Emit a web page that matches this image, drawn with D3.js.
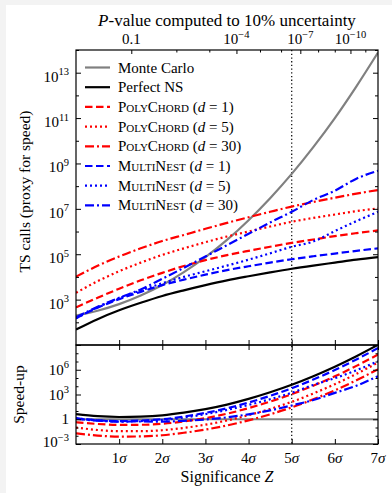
<!DOCTYPE html>
<html>
<head>
<meta charset="utf-8">
<script src="https://cdn.jsdelivr.net/npm/d3@7"></script>
<style>
body { margin: 0; background: #fff; }
text { font-family: "Liberation Serif", "Times New Roman", serif; fill: #000; }
</style>
</head>
<body>
<div id="chart"></div>
<script>
// significance grid (sigma) and log10(TS calls)
const zGrid       = [0, 0.5, 1, 1.5, 2, 2.5, 3, 3.5, 4, 4.5, 5, 5.5, 6, 6.5, 7];
const monteCarlo  = [2.30, 2.51, 2.80, 3.18, 3.64, 4.21, 4.87, 5.63, 6.50, 7.47, 8.54, 9.72, 11.00, 12.40, 13.89];
const perfectNS   = [1.68, 2.14, 2.53, 2.86, 3.16, 3.41, 3.64, 3.85, 4.03, 4.20, 4.36, 4.50, 4.63, 4.76, 4.87];
const polyChord1  = [2.66, 3.08, 3.48, 3.85, 4.18, 4.48, 4.74, 4.96, 5.15, 5.33, 5.50, 5.65, 5.80, 5.93, 6.05];
const polyChord5  = [3.30, 3.81, 4.25, 4.63, 4.97, 5.26, 5.53, 5.78, 6.00, 6.22, 6.43, 6.60, 6.75, 6.90, 7.02];
const polyChord30 = [4.01, 4.49, 4.90, 5.26, 5.58, 5.85, 6.12, 6.38, 6.63, 6.87, 7.10, 7.30, 7.49, 7.67, 7.83];
const multiNest1  = [2.18, 2.64, 3.02, 3.34, 3.64, 3.88, 4.10, 4.30, 4.47, 4.63, 4.78, 4.91, 5.03, 5.15, 5.26];
const multiNest5  = [2.18, 2.66, 3.06, 3.40, 3.72, 4.00, 4.25, 4.50, 4.76, 5.04, 5.33, 5.56, 6.02, 6.46, 6.87];
const multiNest30 = [2.22, 2.68, 3.08, 3.45, 3.92, 4.40, 4.90, 5.40, 5.90, 6.40, 6.87, 7.39, 7.80, 8.33, 8.68];

// tick labels
const sigmaTicks = [1, 2, 3, 4, 5, 6, 7];
const pTicksMajor = [1e-1, 1e-4, 1e-7, 1e-10];
const pTickLabels = [["0.1", null], ["10", "\u22124"], ["10", "\u22127"], ["10", "\u221210"]];
const pTicksMinor = [1e-2, 1e-3, 1e-5, 1e-6, 1e-8, 1e-9, 1e-11];
const topExpLabels = [3, 5, 7, 9, 11, 13];
const botExpLabels = [-3, 0, 3, 6];
const markerZ = 5;

const series = [
	{name: "Monte Carlo", vals: monteCarlo, color: "#808080", dash: null},
	{name: "Perfect NS", vals: perfectNS, color: "#000", dash: null},
	{sc: "PolyChord", d: "1", vals: polyChord1, color: "#ff0000", dash: "7.5,3.5"},
	{sc: "PolyChord", d: "5", vals: polyChord5, color: "#ff0000", dash: "2,3"},
	{sc: "PolyChord", d: "30", vals: polyChord30, color: "#ff0000", dash: "9,3,2,3"},
	{sc: "MultiNest", d: "1", vals: multiNest1, color: "#0000ff", dash: "7.5,3.5"},
	{sc: "MultiNest", d: "5", vals: multiNest5, color: "#0000ff", dash: "2,3"},
	{sc: "MultiNest", d: "30", vals: multiNest30, color: "#0000ff", dash: "9,3,2,3"}
];

// inverse of the upper-tail normal probability (Acklam)
function zFromP(p) {
	const c = [-7.784894002430293e-03, -3.223964580411365e-01, -2.400758277161838e+00, -2.549732539343734e+00, 4.374664141464968e+00, 2.938163982698783e+00];
	const d = [7.784695709041462e-03, 3.224671290700398e-01, 2.445134137142996e+00, 3.754408661907416e+00];
	const a = [-3.969683028665376e+01, 2.209460984245205e+02, -2.759285104469687e+02, 1.383577518672690e+02, -3.066479806614716e+01, 2.506628277459239e+00];
	const b = [-5.447609879822406e+01, 1.615858368580409e+02, -1.556989798598866e+02, 6.680131188771972e+01, -1.328068155288572e+01];
	if (p < 0.02425) {
		const q = Math.sqrt(-2 * Math.log(p));
		return -(((((c[0]*q+c[1])*q+c[2])*q+c[3])*q+c[4])*q+c[5]) / ((((d[0]*q+d[1])*q+d[2])*q+d[3])*q+1);
	}
	const q = p - 0.5, r = q * q;
	return -(((((a[0]*r+a[1])*r+a[2])*r+a[3])*r+a[4])*r+a[5])*q / (((((b[0]*r+b[1])*r+b[2])*r+b[3])*r+b[4])*r+1);
}

const width = 392, height = 493;
const L = 76, R = 378, T = 50, M = 345, B = 444;

const svg = d3.select("#chart").append("svg")
	.attr("width", width).attr("height", height);

svg.append("rect").attr("width", width).attr("height", height).attr("fill", "#f3f3f3");
svg.append("rect").attr("x", 6).attr("y", 5).attr("width", width - 6).attr("height", height - 5).attr("fill", "#fff");

const x = d3.scaleLinear().domain([0, 7]).range([L, R]);
const yTop = d3.scaleLog().domain([1e1, 1e14]).range([M, T]);
const yBot = d3.scaleLog().domain([1e-3, 1e9]).range([B, M]);

const defs = svg.append("defs");
defs.append("clipPath").attr("id", "clipTop").append("rect")
	.attr("x", L).attr("y", T).attr("width", R - L).attr("height", M - T);
defs.append("clipPath").attr("id", "clipBot").append("rect")
	.attr("x", L).attr("y", M).attr("width", R - L).attr("height", B - M);

const lineTop = d3.line()
	.x(d => x(d[0])).y(d => yTop(Math.pow(10, d[1])))
	.curve(d3.curveMonotoneX);
const lineBot = d3.line()
	.x(d => x(d[0])).y(d => yBot(Math.pow(10, d[1])))
	.curve(d3.curveMonotoneX);

// dotted 5 sigma line
svg.append("line")
	.attr("x1", x(markerZ)).attr("x2", x(markerZ))
	.attr("y1", T).attr("y2", B)
	.attr("stroke", "#000").attr("stroke-width", 1.2)
	.attr("stroke-dasharray", "1.3,2.4");

// top panel curves
const gTop = svg.append("g").attr("clip-path", "url(#clipTop)");
series.forEach(s => {
	gTop.append("path")
		.datum(zGrid.map((z, i) => [z, s.vals[i]]))
		.attr("d", lineTop)
		.attr("fill", "none")
		.attr("stroke", s.color)
		.attr("stroke-width", 2.2)
		.attr("stroke-dasharray", s.dash);
});

// bottom panel: speed-up relative to Monte Carlo
const gBot = svg.append("g").attr("clip-path", "url(#clipBot)");
series.forEach(s => {
	gBot.append("path")
		.datum(zGrid.map((z, i) => [z, monteCarlo[i] - s.vals[i]]))
		.attr("d", lineBot)
		.attr("fill", "none")
		.attr("stroke", s.color)
		.attr("stroke-width", 2.2)
		.attr("stroke-dasharray", s.dash);
});

// axes (ticks point inward)
function tickOnly(axis) {
	return axis.tickFormat("").tickSizeOuter(0);
}
const decTop = d3.range(1, 15).map(e => Math.pow(10, e));
const majTop = topExpLabels.map(e => Math.pow(10, e));
const minTop = decTop.filter(v => !majTop.some(m => Math.abs(m - v) / v < 1e-6));
const decBot = d3.range(-3, 10).map(e => Math.pow(10, e));
const majBot = [-3, 0, 3, 6, 9].map(e => Math.pow(10, e));
const minBot = decBot.filter(v => !majBot.some(m => Math.abs(m - v) / v < 1e-6));

const axes = svg.append("g");
function addAxis(ax, tr) {
	const g = axes.append("g").attr("transform", tr).call(ax);
	g.select(".domain").remove();
	g.selectAll("line").attr("stroke", "#000").attr("stroke-width", 1);
}
// top panel y
addAxis(tickOnly(d3.axisLeft(yTop).tickValues(majTop).tickSize(-5)), `translate(${L},0)`);
addAxis(tickOnly(d3.axisLeft(yTop).tickValues(minTop).tickSize(-3)), `translate(${L},0)`);
addAxis(tickOnly(d3.axisRight(yTop).tickValues(majTop).tickSize(-5)), `translate(${R},0)`);
addAxis(tickOnly(d3.axisRight(yTop).tickValues(minTop).tickSize(-3)), `translate(${R},0)`);
// bottom panel y
addAxis(tickOnly(d3.axisLeft(yBot).tickValues(majBot).tickSize(-5)), `translate(${L},0)`);
addAxis(tickOnly(d3.axisLeft(yBot).tickValues(minBot).tickSize(-2.5)), `translate(${L},0)`);
addAxis(tickOnly(d3.axisRight(yBot).tickValues(majBot).tickSize(-5)), `translate(${R},0)`);
addAxis(tickOnly(d3.axisRight(yBot).tickValues(minBot).tickSize(-2.5)), `translate(${R},0)`);
// sigma ticks: bottom of top panel, top and bottom of lower panel
addAxis(tickOnly(d3.axisBottom(x).tickValues(sigmaTicks).tickSize(-5)), `translate(0,${M})`);
addAxis(tickOnly(d3.axisTop(x).tickValues(sigmaTicks).tickSize(-5)), `translate(0,${M})`);
addAxis(tickOnly(d3.axisBottom(x).tickValues(sigmaTicks).tickSize(-5)), `translate(0,${B})`);
// P-value ticks on top
addAxis(tickOnly(d3.axisTop(x).tickValues(pTicksMajor.map(zFromP)).tickSize(-4)), `translate(0,${T})`);
addAxis(tickOnly(d3.axisTop(x).tickValues(pTicksMinor.map(zFromP)).tickSize(-2.5)), `translate(0,${T})`);

// frames
[[T, M], [M, B]].forEach(([a, b]) => {
	svg.append("rect").attr("x", L).attr("y", a).attr("width", R - L).attr("height", b - a)
		.attr("fill", "none").attr("stroke", "#000").attr("stroke-width", 1.2);
});

// tick labels
function powLabel(g, xp, yp, base, exp, anchor) {
	const t = g.append("text").attr("x", xp).attr("y", yp)
		.attr("text-anchor", anchor).style("font-size", "15px");
	t.append("tspan").text(base);
	if (exp !== null) t.append("tspan").attr("dy", -6.5).style("font-size", "10.5px").text(exp);
	return t;
}
const labels = svg.append("g");
topExpLabels.forEach(e => {
	powLabel(labels, 69, yTop(Math.pow(10, e)) + 9, "10", String(e), "end");
});
botExpLabels.forEach(e => {
	const lab = e === 0 ? ["1", null] : ["10", e < 0 ? "\u2212" + (-e) : String(e)];
	const yy = e === -3 ? yBot(Math.pow(10, e)) + 3 : yBot(Math.pow(10, e)) + 5;
	powLabel(labels, 69, yy, lab[0], lab[1], "end");
});
sigmaTicks.forEach(s => {
	const t = labels.append("text").attr("x", x(s)).attr("y", 463)
		.attr("text-anchor", "middle").style("font-size", "15px");
	t.append("tspan").text(s);
	t.append("tspan").style("font-style", "italic").text("\u03c3");
});
pTicksMajor.forEach((p, i) => {
	powLabel(labels, x(zFromP(p)), 44, pTickLabels[i][0], pTickLabels[i][1], "middle");
});

// titles
const title = svg.append("text").attr("x", (L + R) / 2).attr("y", 26)
	.attr("text-anchor", "middle").style("font-size", "17px");
title.append("tspan").style("font-style", "italic").text("P");
title.append("tspan").text("-value computed to 10% uncertainty");

const xl = svg.append("text").attr("x", (L + R) / 2).attr("y", 482)
	.attr("text-anchor", "middle").style("font-size", "16px");
xl.append("tspan").text("Significance ");
xl.append("tspan").style("font-style", "italic").text("Z");

svg.append("text")
	.attr("transform", `translate(30,${(T + M) / 2 - 6}) rotate(-90)`)
	.attr("text-anchor", "middle").style("font-size", "15.5px")
	.text("TS calls (proxy for speed)");
svg.append("text")
	.attr("transform", `translate(24,${(M + B) / 2}) rotate(-90)`)
	.attr("text-anchor", "middle").style("font-size", "15.5px")
	.text("Speed-up");

// legend
const leg = svg.append("g");
series.forEach((s, i) => {
	const yy = 67.5 + i * 19.7;
	leg.append("line").attr("x1", 85).attr("x2", 110).attr("y1", yy).attr("y2", yy)
		.attr("stroke", s.color).attr("stroke-width", 2.2).attr("stroke-dasharray", s.dash);
	const t = leg.append("text").attr("x", 118).attr("y", yy + 5).style("font-size", "15px");
	if (s.name) {
		t.text(s.name);
	} else {
		t.append("tspan").style("font-variant", "small-caps").text(s.sc);
		t.append("tspan").text(" (");
		t.append("tspan").style("font-style", "italic").text("d");
		t.append("tspan").text(" = " + s.d + ")");
	}
});
</script>
</body>
</html>
